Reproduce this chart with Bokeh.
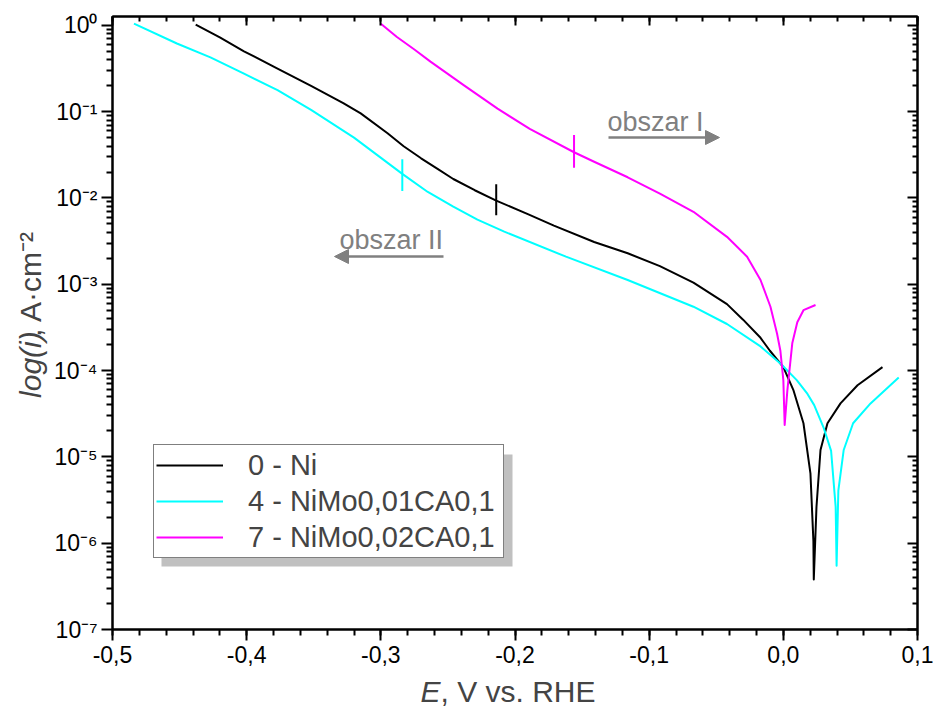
import math
from bokeh.plotting import figure
from bokeh.layouts import row, column
from bokeh.models import (Range1d, LinearAxis, LogAxis, SingleIntervalTicker, FixedTicker,
                          CustomJSTickFormatter, Legend, LegendItem, Label, Arrow, NormalHead,
                          BoxAnnotation, ColumnDataSource)
from bokeh.embed import file_html
from bokeh.resources import INLINE

# ---------------- data (E in V vs. RHE, log10 of current density in A/cm2) ----------------
series_names = ["0 - Ni", "4 - NiMo0,01CA0,1", "7 - NiMo0,02CA0,1"]
series_colors = ["#000000", "#00FFFF", "#FF00FF"]

ni_E = [-0.438, -0.420, -0.402, -0.377, -0.352, -0.328, -0.315, -0.295, -0.283, -0.270,
        -0.258, -0.246, -0.230, -0.214, -0.190, -0.171, -0.141, -0.116, -0.092, -0.067,
        -0.042, -0.030, -0.017, -0.010, 0.000, 0.0076, 0.015, 0.0202, 0.0224, 0.0227,
        0.0247, 0.0277, 0.0329, 0.0426, 0.0553, 0.0739]
ni_log_i = [0.01, -0.14, -0.30, -0.50, -0.70, -0.90, -1.02, -1.25, -1.40, -1.54,
            -1.66, -1.78, -1.91, -2.03, -2.19, -2.32, -2.51, -2.64, -2.79, -2.98,
            -3.23, -3.41, -3.62, -3.77, -3.96, -4.23, -4.61, -5.19, -5.97, -6.42,
            -5.58, -4.92, -4.61, -4.38, -4.17, -3.96]

nimo1_E = [-0.484, -0.452, -0.427, -0.402, -0.377, -0.352, -0.320, -0.284, -0.265, -0.246,
           -0.228, -0.208, -0.162, -0.116, -0.067, -0.042, -0.017, -0.002, 0.010, 0.018,
           0.023, 0.030, 0.0356, 0.039, 0.0397, 0.041, 0.045, 0.052, 0.065, 0.086]
nimo1_log_i = [0.02, -0.21, -0.37, -0.56, -0.75, -0.98, -1.30, -1.72, -1.93, -2.10,
               -2.25, -2.39, -2.68, -2.95, -3.26, -3.46, -3.72, -3.92, -4.11, -4.27,
               -4.40, -4.66, -4.93, -5.58, -6.26, -5.39, -4.92, -4.61, -4.38, -4.08]

nimo2_E = [-0.300, -0.288, -0.275, -0.263, -0.238, -0.213, -0.189, -0.156, -0.141, -0.116,
           -0.092, -0.067, -0.042, -0.027, -0.017, -0.0096, -0.0047, -0.0022, 0.000, 0.001,
           0.003, 0.0067, 0.0104, 0.015, 0.024]
nimo2_log_i = [0.02, -0.135, -0.28, -0.42, -0.695, -0.965, -1.20, -1.47, -1.58, -1.76,
               -1.95, -2.16, -2.45, -2.68, -2.95, -3.26, -3.57, -3.77, -4.11, -4.63,
               -4.23, -3.68, -3.44, -3.30, -3.24]

# boundary markers between regions (short vertical bars on each curve)
marker_E = [-0.214, -0.284, -0.156]
marker_log_lo = [-2.20, -1.92, -1.65]
marker_log_hi = [-1.84, -1.55, -1.27]

region_labels = ["obszar I", "obszar II"]

x_tick_interval = 0.1
y_tick_exponents = [-7, -6, -5, -4, -3, -2, -1, 0]

# ---------------- layout ----------------
FONT = "Liberation Sans"
PAGE_W, PAGE_H = 933, 715
YLAB_W = 50                     # strip on the left holding the y title
XLAB_H = 40                     # strip at the bottom holding the x title
W, H = PAGE_W - YLAB_W, PAGE_H - XLAB_H
BL, BR, BT, BB = 62, 16, 16, 46
FW, FH = W - BL - BR, H - BT - BB
FRAME_LEFT = YLAB_W + BL        # page x of the frame's left edge
X0, X1 = -0.5, 0.1
LY0, LY1 = -7.0, 0.103
GRAY = "#808080"
BASE_FIX = 9                    # svg text baseline correction (px)


def px_E(px):
    """page x pixel -> data x (for annotation placement)"""
    return X0 + (X1 - X0) * (px - FRAME_LEFT) / FW


def py_i(py):
    """page y pixel -> data y (for annotation placement)"""
    return 10 ** (LY1 - (LY1 - LY0) * (py - BT) / FH)


p = figure(width=W, height=H, x_range=Range1d(X0, X1),
           y_range=Range1d(10 ** LY0, 10 ** LY1), y_axis_type="log",
           output_backend="svg", toolbar_location=None,
           min_border_left=BL, min_border_right=BR, min_border_top=BT, min_border_bottom=BB)
p.xgrid.visible = False
p.ygrid.visible = False
p.outline_line_color = "black"
p.outline_line_width = 2
p.background_fill_color = "white"
p.border_fill_color = "white"

x_ticker = SingleIntervalTicker(interval=x_tick_interval, num_minor_ticks=5)
y_major = [10.0 ** e for e in y_tick_exponents]
y_minor = [m * 10.0 ** e for e in y_tick_exponents[:-1] for m in range(2, 10)]
y_ticker = FixedTicker(ticks=y_major, minor_ticks=y_minor)

x_fmt = CustomJSTickFormatter(code="""
const v = Math.round(tick*10)/10;
if (Math.abs(v) < 1e-9) { return '0,0'; }
return v.toFixed(1).replace('.', ',');
""")
y_fmt = CustomJSTickFormatter(code="""
const e = Math.round(Math.log10(tick));
const sup = {'-':'\u207b','0':'\u2070','1':'\u00b9','2':'\u00b2','3':'\u00b3','4':'\u2074',
             '5':'\u2075','6':'\u2076','7':'\u2077','8':'\u2078','9':'\u2079'};
return '10' + String(e).split('').map(c => sup[c]).join('');
""")
empty_fmt = CustomJSTickFormatter(code="return '';")


def style_axis(ax, tick_out, tick_in, minor_out, minor_in):
    ax.axis_line_width = 2
    ax.axis_line_color = "black"
    ax.major_tick_out = tick_out
    ax.major_tick_in = tick_in
    ax.minor_tick_out = minor_out
    ax.minor_tick_in = minor_in
    ax.major_tick_line_width = 2
    ax.minor_tick_line_width = 2
    ax.major_tick_line_color = "black"
    ax.minor_tick_line_color = "black"
    ax.major_label_text_font = FONT
    ax.major_label_text_font_size = "23px"
    ax.major_label_text_color = "black"


xa = p.xaxis[0]
xa.ticker = x_ticker
xa.formatter = x_fmt
style_axis(xa, 11, 0, 6, 0)
xa.major_label_standoff = 5

ya = p.yaxis[0]
ya.ticker = y_ticker
ya.formatter = y_fmt
style_axis(ya, 11, 0, 6, 0)
ya.major_label_standoff = 4

top = LinearAxis(ticker=x_ticker, formatter=empty_fmt)
style_axis(top, 0, 9, 0, 5)
top.major_label_standoff = 0
p.add_layout(top, "above")

right = LogAxis(ticker=y_ticker, formatter=empty_fmt)
style_axis(right, 0, 10, 0, 5)
right.major_label_standoff = 0
p.add_layout(right, "right")

# ---------------- curves ----------------
renderers = []
for E, li, col in [(ni_E, ni_log_i, series_colors[0]),
                   (nimo1_E, nimo1_log_i, series_colors[1]),
                   (nimo2_E, nimo2_log_i, series_colors[2])]:
    src = ColumnDataSource(dict(x=E, y=[10 ** v for v in li]))
    r = p.line("x", "y", source=src, line_color=col, line_width=2, line_join="round")
    renderers.append(r)

msrc = ColumnDataSource(dict(x=marker_E,
                             y0=[10 ** v for v in marker_log_lo],
                             y1=[10 ** v for v in marker_log_hi],
                             c=series_colors))
p.segment(x0="x", y0="y0", x1="x", y1="y1", source=msrc, line_color="c", line_width=2)

# ---------------- region annotations ----------------
p.add_layout(Label(x=px_E(607), y=py_i(130 - BASE_FIX), text=region_labels[0], text_font=FONT,
                   text_font_size="27px", text_color=GRAY, text_baseline="alphabetic"))
p.add_layout(Arrow(x_start=px_E(608), y_start=py_i(137), x_end=px_E(719), y_end=py_i(137),
                   line_color=GRAY, line_width=2.5,
                   end=NormalHead(size=14, fill_color=GRAY, line_color=GRAY)))
p.add_layout(Label(x=px_E(339), y=py_i(248 - BASE_FIX), text=region_labels[1], text_font=FONT,
                   text_font_size="27px", text_color=GRAY, text_baseline="alphabetic"))
p.add_layout(Arrow(x_start=px_E(443), y_start=py_i(256), x_end=px_E(334), y_end=py_i(256),
                   line_color=GRAY, line_width=2.5,
                   end=NormalHead(size=14, fill_color=GRAY, line_color=GRAY)))

# ---------------- legend with shadow ----------------
LEG_X, LEG_Y, LEG_W, LEG_H = 41, 71, 351, 112
p.add_layout(BoxAnnotation(left=px_E(FRAME_LEFT + LEG_X + 8),
                           right=px_E(FRAME_LEFT + LEG_X + LEG_W + 8),
                           top=py_i(BT + FH - LEG_Y - LEG_H + 8), bottom=py_i(BT + FH - LEG_Y + 8),
                           fill_color="#c0c0c0", fill_alpha=1.0, line_color=None,
                           level="overlay"))
legend = Legend(items=[LegendItem(label=n, renderers=[r]) for n, r in zip(series_names, renderers)],
                location=(LEG_X, LEG_Y), label_text_font=FONT, label_text_font_size="29px",
                glyph_width=67, glyph_height=36, label_height=36, label_width=253,
                label_standoff=25, spacing=0, padding=2, margin=0,
                border_line_color="black", border_line_width=1,
                background_fill_color="white", background_fill_alpha=1.0)
p.add_layout(legend)


# ---------------- axis titles (mixed italic) in side strips ----------------
def strip(width, height, x_rng, y_rng):
    f = figure(width=width, height=height, x_range=Range1d(*x_rng), y_range=Range1d(*y_rng),
               output_backend="svg", toolbar_location=None,
               x_axis_location=None, y_axis_location=None, min_border=0)
    f.grid.visible = False
    f.outline_line_color = None
    f.background_fill_color = "white"
    f.border_fill_color = "white"
    return f


AX_FS = "30px"
# left strip: data coordinates = page pixels
ylab = strip(YLAB_W, H, (0, YLAB_W), (H, 0))
Y_TITLE_START = 420
Y_TITLE_X = 30
ylab.add_layout(Label(x=Y_TITLE_X, y=Y_TITLE_START, text="log(i)", angle=math.pi / 2,
                      text_font=FONT, text_font_style="italic", text_font_size=AX_FS,
                      text_baseline="middle", text_align="left"))
ylab.add_layout(Label(x=Y_TITLE_X, y=Y_TITLE_START - 67, text=", A\u00b7cm\u207b\u00b2",
                      angle=math.pi / 2, text_font=FONT, text_font_size=AX_FS,
                      text_baseline="middle", text_align="left"))

# bottom strip: data coordinates = page pixels
xlab = strip(PAGE_W, XLAB_H, (0, PAGE_W), (PAGE_H, H))
X_TITLE_START = 420
X_TITLE_BASE = 700 - BASE_FIX
xlab.add_layout(Label(x=X_TITLE_START, y=X_TITLE_BASE, text="E",
                      text_font=FONT, text_font_style="italic", text_font_size=AX_FS,
                      text_baseline="alphabetic", text_align="left"))
xlab.add_layout(Label(x=X_TITLE_START + 20, y=X_TITLE_BASE, text=", V vs. RHE",
                      text_font=FONT, text_font_size=AX_FS,
                      text_baseline="alphabetic", text_align="left"))

layout = column(row(ylab, p, spacing=0), xlab, spacing=0)
open("out.html", "w").write(file_html(layout, INLINE))
